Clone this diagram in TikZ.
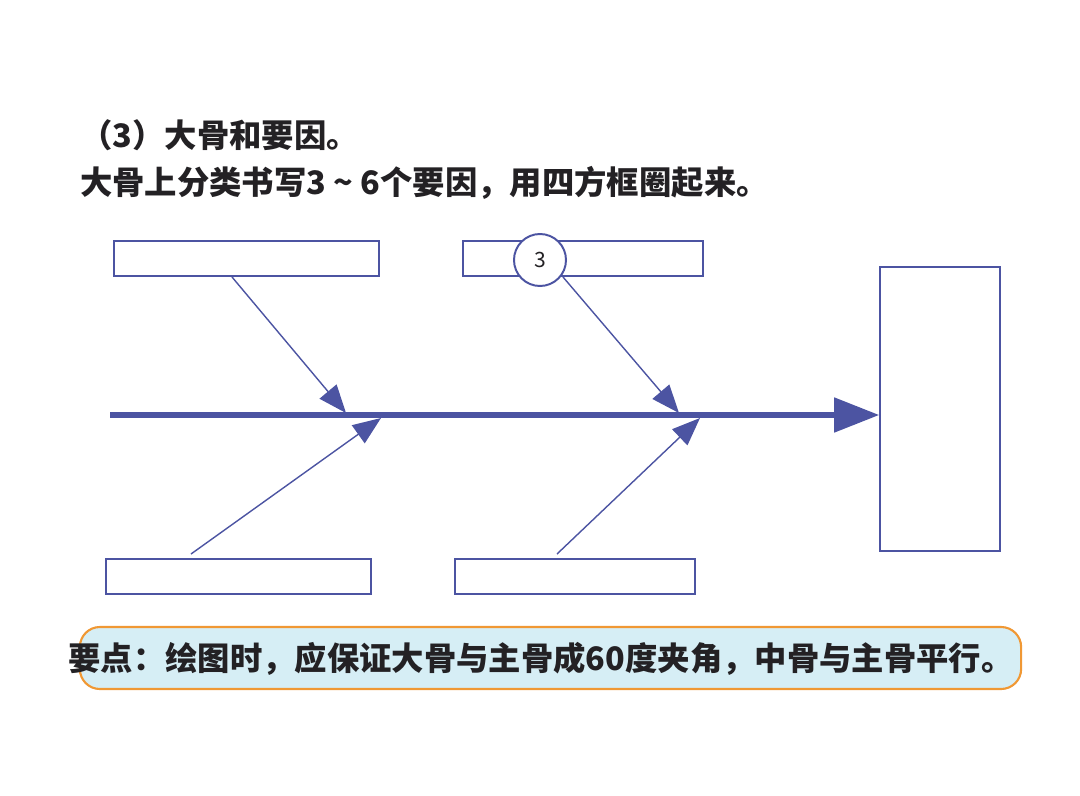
\documentclass[tikz,border=0pt]{standalone}
\usepackage{fontspec}
\usetikzlibrary{arrows.meta}
\newfontfamily\cjk{Noto Sans CJK SC}
\definecolor{bone}{RGB}{76,84,162}
\definecolor{ink}{RGB}{35,33,36}
\definecolor{notefill}{RGB}{214,238,245}
\definecolor{noteline}{RGB}{240,152,52}

\begin{document}
\begin{tikzpicture}[x=0.025cm,y=-0.025cm,
    causebox/.style={draw=bone, line width=1.2pt, inner sep=0pt},
    bonearrow/.style={draw=bone, line width=1pt, -{Triangle[length=0.7cm,width=0.55cm]}},
    title/.style={font=\cjk\bfseries\fontsize{23pt}{27pt}\selectfont, text=ink, inner sep=0pt, anchor=west}]
    \useasboundingbox (0,0) rectangle (1080,796);
    \def \bw {6.625cm} % width of the left boxes
    \def \mw {6cm}     % width of the middle boxes
    \def \bh {0.875cm}
    % heading
    \node[title] (head) at (80,135) {（3）大骨和要因。};
    \node[title] (sub) at (80,183) {大骨上分类书写3 \textasciitilde{} 6个要因，用四方框圈起来。};
    % cause boxes
    \node[causebox, minimum width=\bw, minimum height=\bh] (tl) at (246.5,258.5) {};
    \node[causebox, minimum width=\mw, minimum height=\bh] (tm) at (583,258.5) {};
    \node[causebox, minimum width=\bw, minimum height=\bh] (bl) at (238.5,576.5) {};
    \node[causebox, minimum width=\mw, minimum height=\bh] (bm) at (575,576.5) {};
    \node[causebox, minimum width=3cm, minimum height=7.1cm] (effect) at (940,409) {};
    \node[circle, draw=bone, fill=white, line width=1.4pt, minimum size=1.3cm, inner sep=0pt,
      font=\cjk\fontsize{15pt}{17pt}\selectfont, text=ink] (num) at (540,260) {3};
    % spine
    \coordinate (tail) at (110,415);
    \draw[bone, line width=3.6pt, -{Triangle[length=1.125cm,width=0.85cm]}]
      (tail) -- (tail -| effect.west);
    % big bones
    \foreach \name/\fx/\fy/\tx/\ty in {a/232/277/346/413, b/563/277/679/413,
                                       c/191/554/381/418, d/557/554/700/418}
    {
      \coordinate (\name0) at (\fx,\fy);
      \coordinate (\name1) at (\tx,\ty);
      \draw[bonearrow] (\name0) -- (\name1);
    }
    % key point
    \node[draw=noteline, fill=notefill, line width=1.5pt, rounded corners=0.5cm,
      minimum width=23.525cm, minimum height=1.55cm] (note) at (550.5,658) {};
    \node[title, anchor=center] (notetext) at (541,659)
      {要点：绘图时，应保证大骨与主骨成60度夹角，中骨与主骨平行。};
\end{tikzpicture}
\end{document}
